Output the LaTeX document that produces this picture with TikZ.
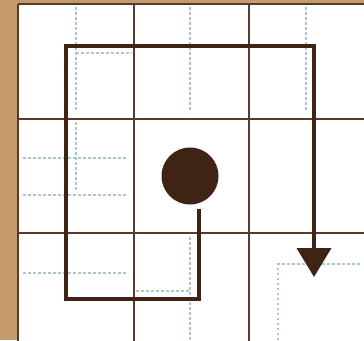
\documentclass[tikz,border=0pt]{standalone}
\usepackage{tikz}
\usetikzlibrary{arrows.meta,positioning}
\usepackage{xcolor}
\definecolor{boardtan}{HTML}{C49A6C}
\definecolor{walnut}{HTML}{3F2416}
\definecolor{gridbrown}{HTML}{5A3A2A}
\definecolor{guideblue}{HTML}{A9C6C8}
\tikzset{
  gridline/.style={draw=gridbrown, line width=2pt},
  guide/.style={draw=guideblue, line width=1.4pt, dash pattern=on 2.5pt off 2.5pt},
  route/.style={draw=walnut, line width=4pt},
}
\begin{document}
\begin{tikzpicture}[x=1pt,y=-1pt]
  \useasboundingbox (0,0) rectangle (364,340);
  \fill[boardtan] (0,0) rectangle (18,340);
  \fill[boardtan] (0,0) rectangle (364,4);
  \fill[white] (18,4) rectangle (364,340);

  \draw[guide] (76,7) -- (76,112);
  \draw[guide] (76,122) -- (76,192);
  \draw[guide] (76,53) -- (132,53);
  \draw[guide] (190,7) -- (190,112);
  \draw[guide] (306,7) -- (306,112);
  \foreach \gy in {158,195,273}
    \draw[guide] (23,\gy) -- (128,\gy);
  \draw[guide] (136,291) -- (190,291);
  \draw[guide] (190,237) -- (190,340);
  \draw[guide] (278,340) -- (278,264) -- (360,264);

  \foreach \gx in {18,133.5,249,364.5}
    \draw[gridline] (\gx,4) -- (\gx,347.5);
  \foreach \gy in {4,118.5,233,347.5}
    \draw[gridline] (18,\gy) -- (364.5,\gy);

  \node[circle, fill=walnut, minimum size=57pt, inner sep=0pt] (dot) at (190,176) {};
  \coordinate (start) at (199,209);
  \coordinate (turnL) at (66,299);
  \coordinate (turnR) at (314,46);
  \coordinate (tip) at (314,277);
  \draw[route, -{Triangle[length=29pt,width=34pt]}] (start) |- (turnL) |- (turnR) -- (tip);
\end{tikzpicture}
\end{document}
